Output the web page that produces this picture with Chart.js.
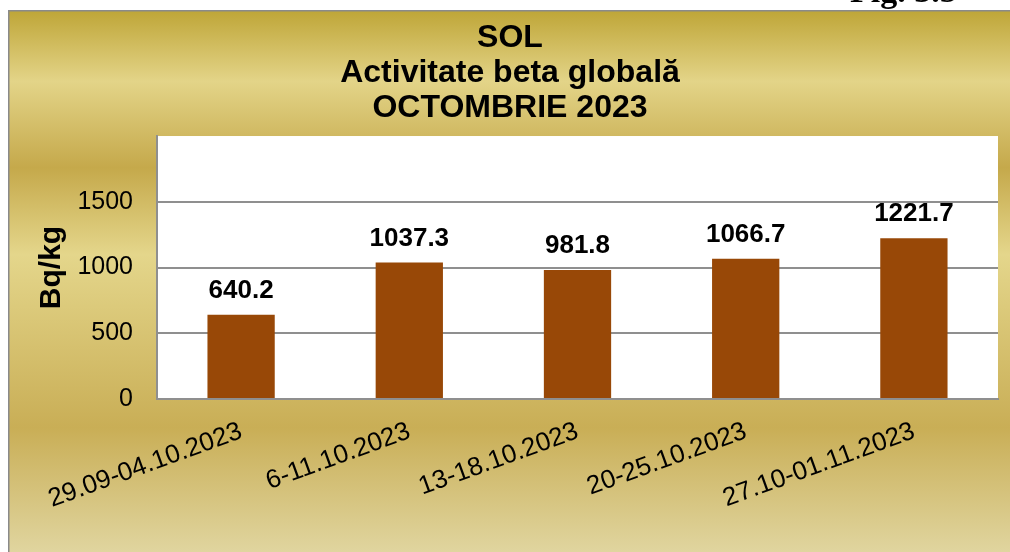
<!DOCTYPE html>
<html>
<head>
<meta charset="utf-8">
<script src="https://cdn.jsdelivr.net/npm/chart.js@4"></script>
<style>
  html, body { margin: 0; padding: 0; background: #fff; }
  #wrap { width: 1010px; height: 552px; position: relative; }
</style>
</head>
<body>
<div id="wrap"><canvas id="sol-chart"></canvas></div>
<script>
// data
const categories = ["29.09-04.10.2023", "6-11.10.2023", "13-18.10.2023", "20-25.10.2023", "27.10-01.11.2023"];
const values = [640.2, 1037.3, 981.8, 1066.7, 1221.7];
const titleLines = ["SOL", "Activitate beta globală", "OCTOMBRIE 2023"];
const yTitle = "Bq/kg";
const figLabel = "Fig. 3.5";
const yMax = 2000;
const yStep = 500;

const FONT = 'Arial, "Liberation Sans", sans-serif';
const GRID = "#8f8f8f";

// gold frame + white plot area
const backdrop = {
  id: "backdrop",
  beforeDraw(chart) {
    const { ctx, width, height, chartArea } = chart;
    ctx.save();
    ctx.fillStyle = "#fff";
    ctx.fillRect(0, 0, width, height);

    const g = ctx.createLinearGradient(0, 11, 0, height);
    g.addColorStop(0, "#bfa638");
    g.addColorStop(0.13, "#e3d488");
    g.addColorStop(0.29, "#c5a94b");
    g.addColorStop(0.45, "#e4d68b");
    g.addColorStop(0.77, "#c9ae56");
    g.addColorStop(1, "#e0d59f");
    ctx.fillStyle = g;
    ctx.fillRect(9, 11, width - 9, height - 11);

    ctx.fillStyle = "#8a8a8a";
    ctx.fillRect(8, 10, width - 8, 1.5);
    ctx.fillRect(8, 10, 1.5, height - 10);

    // caption, mostly cut off at the top
    ctx.fillStyle = "#000";
    ctx.font = "bold 34px \"Liberation Serif\", serif";
    ctx.textBaseline = "alphabetic";
    ctx.textAlign = "left";
    ctx.fillText(figLabel, 850, 2);

    ctx.fillStyle = "#fff";
    ctx.fillRect(chartArea.left, chartArea.top, chartArea.right - chartArea.left, chartArea.bottom - chartArea.top);
    ctx.restore();
  }
};

// value labels above bars
const barValues = {
  id: "barValues",
  afterDatasetsDraw(chart) {
    const { ctx } = chart;
    const meta = chart.getDatasetMeta(0);
    ctx.save();
    ctx.fillStyle = "#000";
    ctx.font = "bold 26px " + FONT;
    ctx.textAlign = "center";
    ctx.textBaseline = "alphabetic";
    meta.data.forEach((bar, i) => {
      ctx.fillText(values[i].toFixed(1), bar.x, bar.y - 17);
    });
    ctx.restore();
  }
};

const chart = new Chart(document.getElementById("sol-chart"), {
  type: "bar",
  data: {
    labels: categories,
    datasets: [{
      data: values,
      backgroundColor: "#984807",
      borderWidth: 0,
      barPercentage: 0.4,
      categoryPercentage: 1
    }]
  },
  options: {
    responsive: true,
    maintainAspectRatio: false,
    animation: false,
    layout: { padding: { top: 21, left: 22, right: 12, bottom: 0 } },
    plugins: {
      legend: { display: false },
      tooltip: { enabled: false },
      title: {
        display: true,
        text: titleLines,
        color: "#000",
        font: { family: FONT, size: 32, weight: "bold", lineHeight: 1.094 },
        padding: { top: 0, bottom: 10 }
      }
    },
    scales: {
      x: {
        grid: { display: false, drawTicks: false },
        border: { display: true, color: GRID, width: 2 },
        ticks: {
          color: "#000",
          font: { family: FONT, size: 26 },
          minRotation: 20,
          maxRotation: 20,
          autoSkip: false,
          padding: 17
        },
        afterFit(scale) { scale.height = 153; }
      },
      y: {
        min: 0,
        max: yMax,
        grid: {
          drawTicks: false,
          lineWidth: 2,
          color: (c) => (c.tick && c.tick.value === yMax ? "rgba(0,0,0,0)" : GRID)
        },
        border: { display: true, color: GRID, width: 2 },
        ticks: {
          stepSize: yStep,
          color: "#000",
          font: { family: FONT, size: 25 },
          padding: 24,
          callback: (v) => (v === yMax ? "" : v)
        },
        title: {
          display: true,
          text: yTitle,
          color: "#000",
          font: { family: FONT, size: 30, weight: "bold" },
          padding: { top: 12, bottom: 0 }
        },
        afterFit(scale) { scale.width = 135; }
      }
    }
  },
  plugins: [backdrop, barValues]
});
</script>
</body>
</html>
